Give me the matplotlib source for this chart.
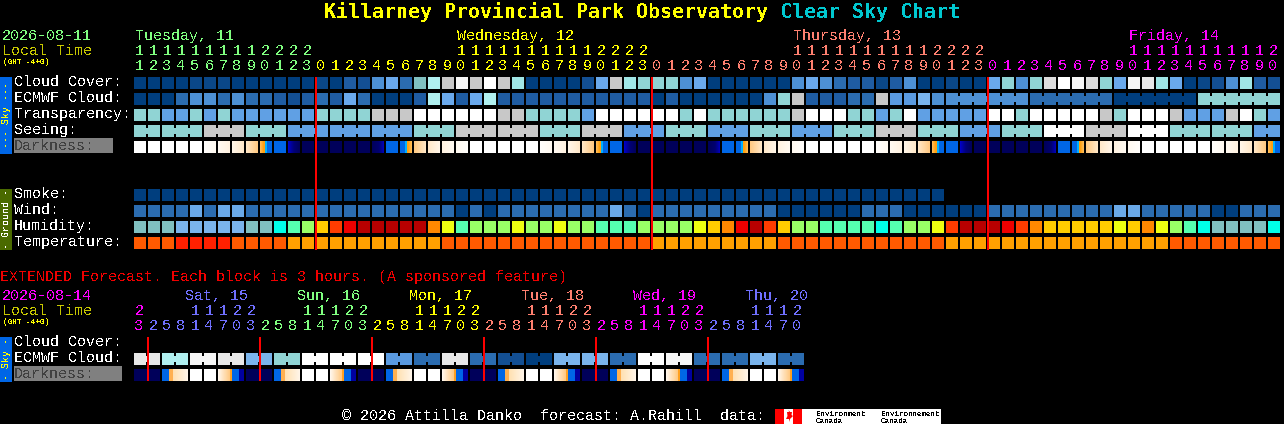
import numpy as np
import matplotlib
matplotlib.use("Agg")
import matplotlib.pyplot as plt
from matplotlib.colors import LinearSegmentedColormap

plt.rcParams['font.family'] = 'Liberation Mono'
plt.rcParams['text.antialiased'] = False
plt.rcParams['text.hinting'] = 'native'

# cloud levels, percent
cloud_colors = {100: '#003e7e', 95: '#0a4788', 90: '#134f93', 80: '#1f5ca2', 70: '#2b6cb0',
                60: '#4d90d4', 55: '#5a9ae0', 50: '#6aa9ec', 45: '#7ab4ec', 40: '#90d4d4',
                35: '#80c0c0', 30: '#a0e6e6', 25: '#b0f0f0', 20: '#c8c8c8', 15: '#dcdcdc',
                10: '#e8e8e8', 5: '#f6f6f6', 0: '#ffffff'}
sky_colors = {2: '#60a0e4', 3: '#90d4d4', 4: '#c8c8c8', 5: '#ffffff'}
wind_colors = {0: '#003e7e', 1: '#2b6cb0', 2: '#6aa9e8'}
humid_colors = {20: '#7ab4ec', 25: '#80c0c0', 30: '#00ffe8', 35: '#55ffb0', 40: '#99ff66',
                45: '#eeff11', 50: '#ffcc00', 55: '#ff8800', 60: '#ff3c00', 65: '#ee0000',
                70: '#b80000'}
temp_colors = {1: '#ff2000', 2: '#ff5a00', 3: '#ffa000'}

cloud_cover = [100, 100, 100, 100, 95, 95, 95, 100, 100, 100, 100, 100, 100, 95, 100, 80, 90, 60, 50, 70, 35,
               25, 20, 5, 20, 0, 20, 30, 100, 100, 100, 100, 90, 50, 20, 30, 40, 40, 40, 60, 50,
               100, 100, 100, 100, 100, 100, 60, 50, 60, 70, 80, 80, 95, 80, 60, 100, 100, 95, 100, 100,
               50, 40, 60, 40, 15, 0, 5, 15, 40, 50, 5, 10, 30, 50, 100, 95, 90, 60, 30, 80, 90]
ecmwf_cloud = [100, 100, 100, 70, 60, 60, 70, 60, 70, 70, 80, 90, 80, 70, 80, 50, 70, 100, 100, 100, 80,
               25, 50, 80, 50, 25, 80, 80, 80, 80, 80, 80, 80, 80, 80, 80, 80, 100, 80, 100, 100,
               100, 100, 100, 100, 60, 40, 20, 80, 80, 80, 70, 70, 20, 55, 55, 45, 60,
               60, 60, 60, 60, 60, 60, 70, 70, 70, 70, 70, 70, 100, 100, 100, 100, 100, 100,
               40, 40, 40, 40, 40, 40]
ecmwf_blocks = [1] * 58 + [6, 6, 6, 6]
transparency = [3, 3, 2, 2, 3, 2, 3, 2, 2, 2, 2, 2, 2, 3, 3, 3, 3, 4, 4, 4, 5,
                5, 5, 5, 5, 5, 4, 4, 3, 3, 3, 3, 2, 5, 5, 5, 5, 5, 5, 3, 5,
                3, 3, 3, 3, 3, 3, 4, 5, 5, 5, 3, 3, 2, 3, 5, 2, 2, 2, 2, 2,
                5, 5, 3, 5, 5, 5, 5, 5, 4, 3, 5, 5, 5, 4, 2, 2, 2, 4, 5, 3, 2]
seeing = [3, 3, 3, 3, 3, 4, 4, 4, 3, 3, 3, 2, 2, 2, 2, 2, 2, 2, 2, 2, 3,
          3, 3, 4, 4, 4, 4, 4, 4, 3, 3, 3, 4, 4, 4, 2, 2, 2, 3, 3, 3,
          2, 2, 2, 3, 3, 3, 2, 2, 2, 3, 3, 3, 4, 4, 4, 3, 3, 3, 2, 2,
          2, 3, 3, 3, 5, 5, 5, 4, 4, 4, 5, 5, 5, 3, 3, 3, 3, 3, 3, 2, 2]
seeing_blocks = [2] + [3] * 26 + [2]
darkness_codes = ("WWWWWabcdSBDNNNNNABRefgh"
                  "WWWWWabcdSBDNNNNNABRefgh"
                  "WWWWWabcdSBDNNNNNABRefgh"
                  "WWWWWabcdS")
smoke = [100] * 58
wind = [1, 1, 1, 1, 2, 1, 2, 2, 1, 1, 1, 1, 1, 1, 1, 1, 1, 1, 1, 1, 1,
        1, 1, 0, 1, 0, 1, 1, 1, 1, 1, 1, 1, 1, 2, 1, 0, 1, 1, 1, 1,
        1, 1, 1, 1, 1, 0, 0, 0, 0, 0, 0, 1, 1, 1, 0, 0, 0, 0, 0, 0,
        1, 1, 1, 1, 1, 1, 1, 1, 1, 2, 2, 1, 1, 1, 1, 1, 0, 0, 1, 1, 1]
humidity = [25, 25, 25, 20, 20, 20, 20, 20, 25, 25, 30, 35, 40, 50, 60, 65, 70, 70, 70, 70, 70,
            55, 45, 35, 40, 40, 40, 45, 40, 40, 45, 40, 40, 35, 35, 35, 40, 40, 40, 40, 45,
            50, 55, 65, 70, 60, 50, 40, 40, 35, 35, 35, 35, 30, 35, 40, 40, 45, 60, 70, 70,
            70, 65, 60, 55, 50, 50, 50, 50, 50, 45, 50, 55, 45, 40, 35, 30, 25, 25, 25, 25, 30]
temperature = [2, 2, 2, 1, 1, 1, 1, 2, 2, 2, 2, 3, 3, 3, 3, 3, 3, 3, 3, 3, 3,
               3, 2, 2, 2, 2, 2, 2, 2, 2, 2, 2, 2, 2, 2, 2, 2, 3, 3, 3, 3,
               3, 3, 3, 3, 3, 2, 2, 2, 2, 2, 2, 2, 2, 2, 2, 2, 2, 3, 3, 3,
               3, 3, 3, 3, 3, 3, 3, 3, 3, 3, 3, 3, 3, 2, 2, 2, 2, 2, 2, 2, 2]

ext_ecmwf = [10, 25, 5, 10, 45, 40, 0, 0, 0, 55, 70, 10, 70, 90, 100, 45, 45, 70, 0, 5, 70, 70, 45, 70]
ext_darkness = ['N', 'RS', 'WW', 'TU'] * 6

# labels over the columns
hour_tens = "1111111112222" + " " * 10 + "11111111112222" + " " * 10 + "11111111112222" + " " * 10 + "11111111112"
hour_units = ("1234567890123" + "012345678901234567890123" + "012345678901234567890123"
              + "012345678901234567890")
hour_spans = [(13, '#80ff80'), (24, '#ffff00'), (24, '#ff8070'), (21, '#ff00ff')]
day_names = ["Tuesday, 11", "Wednesday, 12", "Thursday, 13", "Friday, 14"]
day_columns = [0, 23, 47, 71]
day_colors = ['#80ff80', '#ffff00', '#ff8070', '#ff00ff']

ext_tens = "2   11122" + "   11122" * 5 + "   1112"
ext_units = "3" + "25814703" * 5 + "2581470"
ext_spans = [(1, '#ff00ff'), (8, '#7070ff'), (8, '#80ff80'), (8, '#ffff00'), (8, '#ff8070'),
             (8, '#ff00ff'), (7, '#7070ff')]
ext_days = ["Sat, 15", "Sun, 16", "Mon, 17", "Tue, 18", "Wed, 19", "Thu, 20"]
ext_day_colors = ['#7070ff', '#80ff80', '#ffff00', '#ff8070', '#ff00ff', '#7070ff']

# colour stops of the darkness cells
dark_stops = {
    'W': ['#ffffff', '#ffffff'],
    'a': ['#fffefc', '#fff9f0'],
    'b': ['#fffaf2', '#fff2e0'],
    'c': ['#fff6ea', '#ffe8c8'],
    'd': ['#ffe8c8', '#ffc880'],
    'S': [(0, '#ffc060'), (.3, '#ffa010'), (.42, '#ffa010'), (.42, '#00b0ff'), (.58, '#00b0ff'),
          (.58, '#0066e6'), (1, '#0066e6')],
    'B': ['#0066e6', '#0066e6'],
    'D': [(0, '#0000d0'), (.25, '#0000a0'), (.5, '#000078'), (1, '#00005a')],
    'N': ['#00005a', '#00005a'],
    'A': [(0, '#00005a'), (.6, '#000070'), (.85, '#0000a0'), (1, '#0000c0')],
    'R': [(0, '#0066e6'), (.42, '#0066e6'), (.42, '#00b0ff'), (.58, '#00b0ff'), (.58, '#ffa010'),
          (.7, '#ffa010'), (1, '#ffc060')],
    'e': ['#ffc880', '#ffe8c8'],
    'f': ['#ffe8c8', '#fff6ea'],
    'g': ['#fff2e0', '#fffaf2'],
    'h': ['#fff9f0', '#fffefc'],
    'RS': [(0, '#0066e6'), (.27, '#0066e6'), (.27, '#ffb050'), (.42, '#ffb050'), (.42, '#ffe0b0'),
           (1, '#fff6ea')],
    'WW': [(0, '#ffffff'), (.46, '#ffffff'), (.46, '#000000'), (.54, '#000000'), (.54, '#ffffff'),
           (1, '#ffffff')],
    'TU': [(0, '#fff8f0'), (.46, '#ffc880'), (.46, '#ffa020'), (.54, '#ffa020'), (.54, '#0066e6'),
           (.8, '#0066e6'), (.8, '#0000a0'), (1, '#0000a0')],
}

X0, PITCH, CELL = 134, 14, 12

fig = plt.figure(figsize=(12.84, 4.24), dpi=100, facecolor='black')
ax = fig.add_axes([0, 0, 1, 1])
ax.set_facecolor('black')
ax.axis('off')


def draw_row(values, palette, top, blocks=None):
    x = X0 + PITCH * np.arange(len(values))
    ax.bar(x, CELL, width=CELL, bottom=top, align='edge', color=[palette[v] for v in values],
           antialiased=False, linewidth=0)
    if blocks is None:
        return
    # short bridge between the cells of one block
    start = 0
    for size in blocks:
        for i in range(start, start + size - 1):
            ax.bar(x[i] + CELL, 6, width=2, bottom=top + 3, align='edge', color=palette[values[i]],
                   antialiased=False, linewidth=0)
        start += size


def draw_gradient(code, left, top, width):
    stops = dark_stops[code]
    cmap = LinearSegmentedColormap.from_list(code, stops, N=256)
    strip = cmap((np.arange(width) + .5) / width)[None, :, :]
    ax.imshow(strip, extent=(left, left + width, top + CELL, top), aspect='auto',
              interpolation='nearest', zorder=2)


def label(x, y, s, color='white', size=10.8, **kw):
    ax.text(x, y, s, color=color, fontsize=size, va='baseline', ha=kw.pop('ha', 'left'), **kw)


def column_digits(chars, spans, y):
    i = 0
    for n, color in spans:
        for c in chars[i:i + n]:
            if c != ' ':
                label(X0 + PITCH * i + 5, y, c, color, ha='center')
            i += 1


def red_line(x, top, bottom):
    ax.bar(x, bottom - top, width=2, bottom=top, align='edge', color='#ff0000', antialiased=False,
           linewidth=0, zorder=3)


# title
label(324, 18, "Killarney Provincial Park Observatory", '#ffff00', 14.4, fontweight='bold', family='DejaVu Sans Mono')
label(780, 18, "Clear Sky Chart", '#00c8d0', 14.4, fontweight='bold', family='DejaVu Sans Mono')

# main header
label(2, 40, "2026-08-11", '#80ff80')
label(2, 55, "Local Time", '#c8c800')
label(3, 64, "(GMT -4+0)", '#ffff00', 5.6)
for name, col, color in zip(day_names, day_columns, day_colors):
    label(X0 + PITCH * col + 1, 40, name, color)
column_digits(hour_tens, hour_spans, 55)
column_digits(hour_units, hour_spans, 70)

# main rows
draw_row(cloud_cover, cloud_colors, 77)
draw_row(ecmwf_cloud, cloud_colors, 93, ecmwf_blocks)
draw_row(transparency, sky_colors, 109)
draw_row(seeing, sky_colors, 125, seeing_blocks)
for i, code in enumerate(darkness_codes):
    draw_gradient(code, X0 + PITCH * i, 141, CELL)
draw_row(smoke, cloud_colors, 189)
draw_row(wind, wind_colors, 205)
draw_row(humidity, humid_colors, 221)
draw_row(temperature, temp_colors, 237)

row_names = ["Cloud Cover:", "ECMWF Cloud:", "Transparency:", "Seeing:"]
for k, name in enumerate(row_names):
    label(14, 86 + 16 * k, name)
ax.bar(14, 15, width=99, bottom=138, align='edge', color='#808080', linewidth=0)
label(14, 150, "Darkness:", '#404040')
for k, name in enumerate(["Smoke:", "Wind:", "Humidity:", "Temperature:"]):
    label(14, 198 + 16 * k, name)

# side tabs
ax.bar(0, 77, width=12, bottom=77, align='edge', color='#0066e6', linewidth=0)
ax.bar(0, 61, width=12, bottom=189, align='edge', color='#4a6a00', linewidth=0)
ax.bar(0, 45, width=12, bottom=337, align='edge', color='#0066e6', linewidth=0)
ax.text(6, 115, "--- Sky ---", color='#ffff00', fontsize=7.2, rotation=90, ha='center', va='center')
ax.text(6, 219, "- Ground -", color='white', fontsize=7.2, rotation=90, ha='center', va='center')
ax.text(6, 359, "- Sky -", color='#ffff00', fontsize=7.2, rotation=90, ha='center', va='center')

# midnight markers
for d in range(3):
    red_line(315 + 336 * d, 77, 250)

# extended part
label(0, 281, "EXTENDED Forecast. Each block is 3 hours. (A sponsored feature)", '#f00000')
label(2, 300, "2026-08-14", '#ff00ff')
label(2, 315, "Local Time", '#c8c800')
label(3, 324, "(GMT -4+0)", '#ffff00', 5.6)
for k, (name, color) in enumerate(zip(ext_days, ext_day_colors)):
    label(185 + 112 * k, 300, name, color)
column_digits(ext_tens, ext_spans, 315)
column_digits(ext_units, ext_spans, 330)

label(14, 346, "Cloud Cover:")
label(14, 362, "ECMWF Cloud:")
ax.bar(14, 15, width=108, bottom=366, align='edge', color='#808080', linewidth=0)
label(14, 378, "Darkness:", '#404040')

draw_row(np.repeat(ext_ecmwf, 2).tolist(), cloud_colors, 353, [2] * len(ext_ecmwf))
for k, code in enumerate(ext_darkness):
    draw_gradient(code, X0 + 2 * PITCH * k, 369, 2 * CELL + 2)
for k in range(6):
    red_line(147 + 112 * k, 337, 381)

# footer
label(342, 420, "\u00a9 2026 Attilla Danko  forecast: A.Rahill  data:")
ax.bar(775, 15, width=166, bottom=409, align='edge', color='white', linewidth=0)
ax.bar([775, 793], 15, width=9, bottom=409, align='edge', color='#ff0000', linewidth=0)
ax.fill([788.5, 790, 792, 791.5, 793, 790, 789, 789, 786, 787.5, 787, 789],
        [410, 412, 412, 415, 416, 419, 422, 419, 419, 416, 412, 412], color='#ff0000', linewidth=0)
for x, word in [(816, "Environment"), (881, "Environnement")]:
    ax.text(x, 416, word, color='black', fontsize=5.4, va='baseline')
    ax.text(x, 423, "Canada", color='black', fontsize=5.4, va='baseline')

ax.set_xlim(0, 1284)
ax.set_ylim(424, 0)
fig.savefig("out.png", dpi=100, facecolor='black')
